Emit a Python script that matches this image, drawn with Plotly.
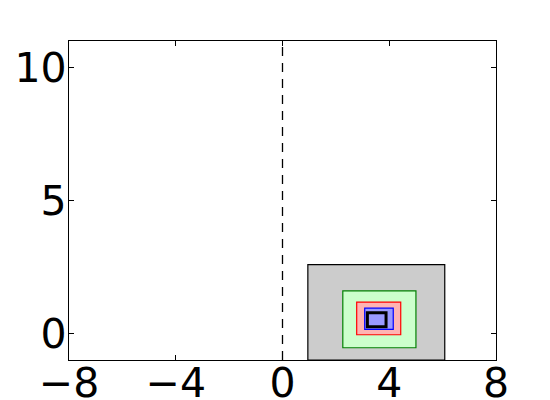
import plotly.graph_objects as go

# nested rectangles, outermost first
rect_x0 = [0.95, 2.26, 2.78, 3.08, 3.18]
rect_x1 = [6.08, 5.00, 4.43, 4.15, 3.88]
rect_y0 = [-1.0, -0.54, -0.05, 0.15, 0.25]
rect_y1 = [2.59, 1.60, 1.18, 0.95, 0.78]
edge_colors = ["black", "#008000", "#ff0000", "#0000ff", "black"]
fill_colors = ["#cccccc", "#ccffcc", "#ffb3b3", "#9999ff", "#9999ff"]
edge_widths = [1.2, 1.2, 1.2, 1.2, 3]

x_ticks = [-8, -4, 0, 4, 8]
y_ticks = [0, 5, 10]
x_range = [-8, 8]
y_range = [-1, 11]
vline_x = 0

fig = go.Figure()

fig.add_trace(go.Scatter(x=[vline_x, vline_x], y=y_range, mode="lines",
                         line=dict(color="black", width=1.3, dash="9px,7px"),
                         showlegend=False, hoverinfo="skip"))

for i in range(len(rect_x0)):
    fig.add_shape(type="rect", x0=rect_x0[i], x1=rect_x1[i],
                  y0=rect_y0[i], y1=rect_y1[i],
                  line=dict(color=edge_colors[i], width=edge_widths[i]),
                  fillcolor=fill_colors[i], layer="above")

fig.update_xaxes(range=x_range, tickvals=x_ticks,
                 ticktext=[str(v).replace("-", "\u2212") for v in x_ticks],
                 showgrid=False, zeroline=False, showline=True,
                 linecolor="black", linewidth=1.2, mirror="ticks",
                 ticks="inside", ticklen=5, tickcolor="black",
                 automargin=False, ticklabelstandoff=-13)
fig.update_yaxes(range=y_range, tickvals=y_ticks,
                 showgrid=False, zeroline=False, showline=True,
                 linecolor="black", linewidth=1.2, mirror="ticks",
                 ticks="inside", ticklen=5, tickcolor="black",
                 automargin=False, ticklabelstandoff=-7)

# page body has an 8px margin, so the figure is sized to fit the window
fig.update_layout(width=542, height=392,
                  margin=dict(l=61, r=54, t=33, b=40),
                  plot_bgcolor="white", paper_bgcolor="white",
                  font=dict(family="DejaVu Sans", size=41, color="black"),
                  showlegend=False)

fig.write_html("out.html")
